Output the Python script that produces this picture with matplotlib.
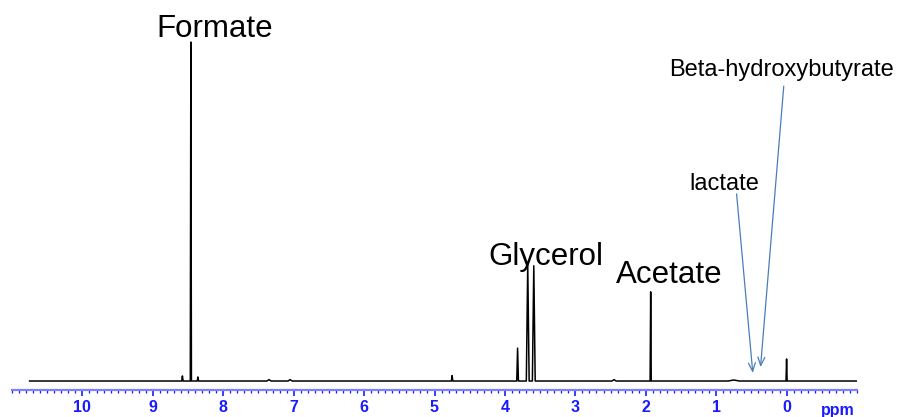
import numpy as np
import matplotlib
matplotlib.use("Agg")
import matplotlib.pyplot as plt
from matplotlib.ticker import MultipleLocator

plt.rcParams["font.family"] = ["Liberation Sans", "DejaVu Sans"]

# peak positions (ppm), relative heights and base half-widths
peak_ppm = [8.58, 8.46, 8.36, 7.35, 7.05, 4.75, 3.82, 3.676, 3.59, 2.45, 1.93, 0.75, 0.0]
peak_height = [1.5, 100.0, 1.2, 0.4, 0.4, 1.6, 9.7, 34.5, 34.0, 0.4, 26.3, 0.3, 6.5]
peak_width = [0.01, 0.008, 0.01, 0.03, 0.03, 0.01, 0.012, 0.02, 0.02, 0.03, 0.008, 0.08, 0.008]

spec_start, spec_end = 10.75, -1.0

# build the trace from high to low ppm
xs = [spec_start]
ys = [0.0]
for p, h, w in sorted(zip(peak_ppm, peak_height, peak_width), reverse=True):
    xs += [p + w, p, p - w]
    ys += [0.0, h, 0.0]
xs.append(spec_end)
ys.append(0.0)

fig = plt.figure(figsize=(8.99, 4.17), dpi=100)
ax = fig.add_axes([12 / 899, 27 / 417, 845 / 899, 390 / 417])
ax.plot(xs, ys, color="black", lw=1.1)

ax.set_xlim(11, -1)
ax.set_ylim(-2.65, 112.4)

blue = "#1a1aff"
for s in ["top", "left", "right"]:
    ax.spines[s].set_visible(False)
ax.spines["bottom"].set_color("#7f7fff")
ax.spines["bottom"].set_linewidth(1.6)
ax.set_yticks([])
ax.xaxis.set_major_locator(MultipleLocator(1))
ax.xaxis.set_minor_locator(MultipleLocator(0.1))
ax.tick_params(axis="x", which="major", colors=blue, length=4.5, width=1.2, pad=3,
               labelsize=11.5)
ax.tick_params(axis="x", which="minor", colors=blue, length=2, width=0.9)
ax.set_xticks(range(0, 11))
ax.set_xticklabels([str(i) for i in range(0, 11)], fontweight="bold", color=blue)
fig.text(838 / 899, 1 - 410 / 417, "ppm", color=blue, fontsize=11.5, fontweight="bold",
         ha="center", va="center")

# metabolite labels
ax.text(8.12, 101.5, "Formate", fontsize=22.5, ha="center", va="baseline")
ax.text(3.42, 34.2, "Glycerol", fontsize=22.5, ha="center", va="baseline")
ax.text(1.66, 28.9, "Acetate", fontsize=22.5, ha="center", va="baseline")
ax.text(0.88, 56.3, "lactate", fontsize=17, ha="center", va="baseline")
ax.text(0.07, 90.0, "Beta-hydroxybutyrate", fontsize=17, ha="center", va="baseline")

arrow = dict(arrowstyle="->,head_length=0.6,head_width=0.25", color="#4a7ebb", lw=0.9,
             shrinkA=0, shrinkB=0)
ax.annotate("", xy=(0.48, 2.4), xytext=(0.71, 55.2), arrowprops=arrow)
ax.annotate("", xy=(0.37, 4.1), xytext=(0.04, 87.0), arrowprops=arrow)

fig.savefig("out.png", dpi=100)
